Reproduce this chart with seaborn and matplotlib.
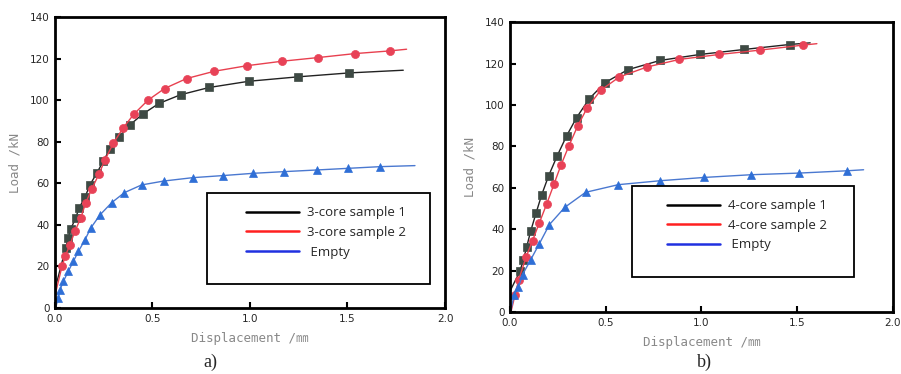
import matplotlib
matplotlib.use("Agg")
import matplotlib.pyplot as plt
import seaborn as sns
import pandas as pd
from matplotlib.lines import Line2D
from matplotlib.patches import Rectangle

sns.set_theme(style="white")
plt.rcParams['font.family'] = ['DejaVu Sans', 'Noto Sans CJK JP']

# ---- Panel a data (3-core) ----
a_s1_x = [0.0, 0.055, 0.068, 0.08, 0.106, 0.123, 0.154, 0.179, 0.214, 0.248, 0.282, 0.328, 0.383, 0.45, 0.533, 0.644, 0.791, 0.995, 1.244, 1.508, 1.786]
a_s1_y = [9, 28.8, 33.6, 37.9, 43.2, 48.0, 53.3, 59.2, 64.8, 70.7, 76.5, 82.4, 88.0, 93.3, 98.4, 102.6, 106.1, 109.1, 111.2, 113.1, 114.4]
a_s2_x = [0.0, 0.036, 0.053, 0.077, 0.103, 0.132, 0.157, 0.188, 0.226, 0.256, 0.299, 0.35, 0.405, 0.477, 0.562, 0.675, 0.817, 0.986, 1.162, 1.35, 1.538, 1.718, 1.803]
a_s2_y = [6, 20.0, 25.1, 30.4, 37.1, 43.2, 50.4, 57.1, 64.5, 71.2, 79.2, 86.7, 93.3, 100.0, 105.6, 110.4, 113.9, 116.6, 118.7, 120.5, 122.4, 123.7, 124.5]
a_em_x = [0.003, 0.017, 0.026, 0.043, 0.068, 0.094, 0.12, 0.154, 0.183, 0.231, 0.291, 0.356, 0.444, 0.559, 0.706, 0.86, 1.017, 1.174, 1.342, 1.504, 1.667, 1.846]
a_em_y = [0, 4.8, 8.8, 12.8, 17.6, 22.4, 27.2, 32.8, 38.4, 44.8, 50.7, 55.5, 59.2, 61.1, 62.7, 63.7, 64.8, 65.6, 66.4, 67.2, 68.0, 68.5]

# ---- Panel b data (4-core) ----
b_s1_x = [0.0, 0.052, 0.07, 0.087, 0.108, 0.136, 0.166, 0.202, 0.247, 0.296, 0.348, 0.415, 0.497, 0.615, 0.784, 0.993, 1.223, 1.46, 1.568]
b_s1_y = [10, 19.7, 25.2, 31.3, 39.0, 47.7, 56.7, 65.8, 75.5, 85.1, 93.9, 103.1, 110.8, 117.0, 121.5, 124.4, 126.8, 129.2, 130.0]
b_s2_x = [0.005, 0.026, 0.045, 0.084, 0.118, 0.153, 0.192, 0.23, 0.267, 0.308, 0.354, 0.404, 0.474, 0.571, 0.714, 0.885, 1.094, 1.307, 1.53, 1.603]
b_s2_y = [0, 8.0, 15.3, 26.5, 34.5, 43.0, 52.2, 61.8, 71.1, 80.3, 89.9, 98.7, 107.1, 113.5, 118.3, 122.0, 124.4, 126.5, 128.9, 129.6]
b_em_x = [0.003, 0.021, 0.044, 0.066, 0.108, 0.153, 0.206, 0.287, 0.395, 0.566, 0.784, 1.016, 1.26, 1.512, 1.76, 1.847]
b_em_y = [0, 8.0, 12.0, 18.1, 25.2, 32.9, 42.2, 50.6, 57.8, 61.5, 63.4, 65.0, 66.3, 67.1, 68.2, 68.7]

labels_a = ["3-core sample 1", "3-core sample 2", " Empty"]
labels_b = ["4-core sample 1", "4-core sample 2", " Empty"]
x_ticks = [0.0, 0.5, 1.0, 1.5, 2.0]
y_ticks = [0, 20, 40, 60, 80, 100, 120, 140]

line_cols = ["#222222", "#e8404f", "#4a78d0"]
mk_face = ["#3e4a44", "#e84257", "#2f6fd6"]
markers = ["s", "o", "^"]
legend_cols = ["#000000", "#ff2020", "#2030e0"]

fig = plt.figure(figsize=(9.01, 3.74), dpi=100)
ax_a = fig.add_axes([0.061, 0.1765, 0.4329, 0.778])
ax_b = fig.add_axes([0.566, 0.1658, 0.425, 0.775])


def draw(ax, series, labels, box, leg_anchor):
    for i, (xs, ys) in enumerate(series):
        df = pd.DataFrame({"x": xs, "y": ys})
        sns.lineplot(data=df, x="x", y="y", ax=ax, color=line_cols[i], lw=1.0,
                     marker=markers[i], markersize=5.8, markerfacecolor=mk_face[i],
                     markeredgecolor=mk_face[i], markeredgewidth=0.5,
                     markevery=list(range(1, len(xs) - 1)), estimator=None, sort=False)
    ax.set_xlim(0, 2.0)
    ax.set_ylim(0, 140)
    ax.set_xticks(x_ticks)
    ax.set_xticklabels([f"{v:.1f}" for v in x_ticks])
    ax.set_yticks(y_ticks)
    ax.set_yticklabels([str(v) for v in y_ticks])
    ax.tick_params(direction="in", length=4, width=1.5, labelsize=7.5, color="black",
                   pad=4, bottom=True, left=True)
    for sp in ax.spines.values():
        sp.set_linewidth(2.0)
        sp.set_color("black")
    ax.set_xlabel("Displacement /㎜", fontsize=9, color="#888888", labelpad=6,
                  family=['DejaVu Sans Mono', 'Noto Sans CJK JP'])
    ax.set_ylabel("Load /kN", fontsize=9, color="#888888", labelpad=6,
                  family=['DejaVu Sans Mono', 'Noto Sans CJK JP'])
    ax.add_patch(Rectangle((box[0], box[1]), box[2], box[3], transform=ax.transAxes,
                           fill=False, edgecolor="black", lw=1.3, zorder=5))
    handles = [Line2D([], [], color=legend_cols[i], lw=1.8) for i in range(3)]
    ax.legend(handles, labels, loc="upper left", bbox_to_anchor=leg_anchor, frameon=False,
              handlelength=4.0, handletextpad=0.6, labelspacing=0.5,
              prop={"family": "Open Sans", "size": 9.5})


draw(ax_a, [(a_s1_x, a_s1_y), (a_s2_x, a_s2_y), (a_em_x, a_em_y)], labels_a,
     (0.39, 0.082, 0.572, 0.313), (0.46, 0.39))
draw(ax_b, [(b_s1_x, b_s1_y), (b_s2_x, b_s2_y), (b_em_x, b_em_y)], labels_b,
     (0.319, 0.121, 0.579, 0.313), (0.38, 0.43))

fig.text(0.233, 0.018, "a)", fontsize=13, family="Liberation Serif", ha="center")
fig.text(0.782, 0.018, "b)", fontsize=13, family="Liberation Serif", ha="center")

fig.savefig("out.png", dpi=100)
